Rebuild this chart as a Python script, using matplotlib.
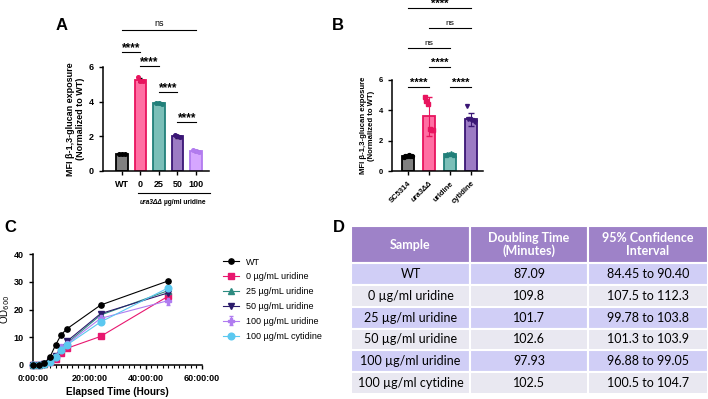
import matplotlib
matplotlib.use("Agg")
import matplotlib.pyplot as plt
from matplotlib.ticker import MultipleLocator

plt.rcParams['font.family'] = ['Liberation Sans', 'DejaVu Sans']
plt.rcParams['axes.linewidth'] = 1.1

# ---------------- Data ----------------
# Panel A
a_labels = ["WT", "0", "25", "50", "100"]
a_means = [1.0, 5.25, 3.9, 2.0, 1.15]
a_sd = [0.02, 0.1, 0.06, 0.07, 0.05]
a_points = [[1.0, 1.0, 1.0], [5.4, 5.2, 5.2], [3.95, 3.9, 3.85],
            [2.05, 2.0, 1.95], [1.2, 1.15, 1.12]]

# Panel B
b_labels = ["SC5314", "ura3ΔΔ", "uridine", "cytidine"]
b_means = [1.0, 3.6, 1.12, 3.42]
b_sd = [0.05, 1.28, 0.06, 0.42]
b_points = [[0.95, 1.0, 1.02, 1.05, 0.98, 1.0],
            [4.9, 4.6, 4.4, 2.75, 2.7, 2.72],
            [1.05, 1.1, 1.15, 1.2, 1.12, 1.08],
            [4.3, 3.45, 3.4, 3.35, 3.3, 3.25]]

# Panel C
hours = [0, 2, 4, 6, 8, 10, 12, 24, 48]
od_wt = [0, 0.1, 0.6, 2.8, 7.2, 10.9, 13.0, 21.6, 30.3]
od_u0 = [0, 0, 0.2, 1.0, 2.3, 4.3, 6.0, 10.3, 24.8]
od_u25 = [0, 0, 0.3, 1.5, 3.2, 5.8, 7.8, 18.0, 26.8]
od_u50 = [0, 0, 0.3, 1.6, 3.4, 6.2, 8.5, 18.5, 26.0]
od_u100 = [0, 0, 0.3, 1.4, 3.0, 6.5, 7.5, 16.8, 23.2]
od_u100_err = [0, 0, 0, 0, 0, 0.3, 0.3, 0.6, 1.5]
od_c100 = [0, 0, 0.3, 1.2, 2.8, 5.5, 7.2, 15.5, 27.8]
c_series_labels = ["WT", "0 µg/mL uridine", "25 µg/mL uridine",
                   "50 µg/mL uridine", "100 µg/mL uridine", "100 µg/mL cytidine"]

# Panel D
d_header = ["Sample", "Doubling Time\n(Minutes)", "95% Confidence\nInterval"]
d_samples = ["WT", "0 µg/ml uridine", "25 µg/ml uridine", "50 µg/ml uridine",
             "100 µg/ml uridine", "100 µg/ml cytidine"]
d_doubling = ["87.09", "109.8", "101.7", "102.6", "97.93", "102.5"]
d_ci = ["84.45 to 90.40", "107.5 to 112.3", "99.78 to 103.8", "101.3 to 103.9",
        "96.88 to 99.05", "100.5 to 104.7"]

# ---------------- Figure ----------------
W, H = 708, 399
fig = plt.figure(figsize=(W / 100, H / 100), dpi=100)


def ax_px(l, t, r, b):
    return fig.add_axes([l / W, 1 - b / H, (r - l) / W, (b - t) / H])


def style_prism(ax, size=6.5):
    for s in ["top", "right"]:
        ax.spines[s].set_visible(False)
    ax.tick_params(width=1.0, length=3, labelsize=size)
    for lab in ax.get_xticklabels() + ax.get_yticklabels():
        lab.set_fontweight('bold')


fills = ["#808080", "#FF6FA3", "#7BBFB8", "#9C7BC4", "#D6A6FF"]
edges = ["#000000", "#E8145E", "#22807A", "#3A1675", "#B27BEF"]

# ---------------- Panel A ----------------
axA = ax_px(103, 67, 209, 171)
xa = list(range(len(a_labels)))
axA.bar(xa, a_means, width=0.64, color=fills, edgecolor=edges, linewidth=1.3,
        yerr=a_sd, error_kw=dict(ecolor='k', lw=0.6, capsize=1.5), zorder=2)
for i, pts in enumerate(a_points):
    axA.plot([i - 0.15, i, i + 0.15], pts, 'o', ms=2.6, color=edges[i],
             zorder=3, clip_on=False)
axA.set_xlim(-1.02, 4.7)
axA.set_ylim(0, 6)
axA.set_yticks([0, 2, 4, 6])
axA.set_xticks(xa)
axA.set_xticklabels(a_labels)
style_prism(axA, 6.5)
axA.set_ylabel("MFI β-1,3-glucan exposure\n(Normalized to WT)", fontsize=6.5,
               fontweight='bold', labelpad=3, linespacing=1.1)

a_sig = [(0, 4, 8.14, "ns"), (0, 1, 6.87, "****"), (1, 2, 6.06, "****"),
         (2, 3, 4.56, "****"), (3, 4, 2.83, "****")]
for x0, x1, yv, txt in a_sig:
    axA.plot([x0, x1], [yv, yv], color='k', lw=0.8, clip_on=False)
    if txt == "ns":
        axA.text((x0 + x1) / 2, yv + 0.2, txt, ha='center', va='baseline',
                 fontsize=6.5, clip_on=False)
    else:
        axA.text((x0 + x1) / 2, yv + 0.05, txt, ha='center', va='baseline',
                 fontsize=8.5, fontweight='bold', clip_on=False)

# bracket under A
fig.add_artist(plt.Line2D([138 / W, 210 / W], [1 - 193 / H, 1 - 193 / H],
                          color='k', lw=0.8))
fig.text(163 / W, 1 - 203 / H, "ura3ΔΔ", ha='right', va='center', fontsize=4.8,
         fontweight='bold', style='italic')
fig.text(164 / W, 1 - 203 / H, "µg/ml uridine", ha='left', va='center',
         fontsize=4.8, fontweight='bold')

# ---------------- Panel B ----------------
axB = ax_px(392, 80, 483, 171)
xb = list(range(len(b_labels)))
b_fill = [fills[0], fills[1], fills[2], fills[3]]
b_edge = [edges[0], edges[1], edges[2], edges[3]]
b_mark = ['o', 's', '^', 'v']
axB.bar(xb, b_means, width=0.6, color=b_fill, edgecolor=b_edge, linewidth=1.3,
        zorder=2)
for i in xb:
    axB.errorbar(i, b_means[i], yerr=b_sd[i], color=b_edge[i], lw=0.8,
                 capsize=2, zorder=3)
for i, pts in enumerate(b_points):
    n = len(pts)
    xs = [i - 0.2 + 0.4 * k / (n - 1) for k in range(n)]
    axB.plot(xs, pts, b_mark[i], ms=2.8, color=b_edge[i], zorder=4,
             clip_on=False)
axB.set_xlim(-0.76, 3.57)
axB.set_ylim(0, 6)
axB.set_yticks([0, 2, 4, 6])
axB.set_xticks(xb)
axB.set_xticklabels(b_labels, rotation=45, ha='right', rotation_mode='anchor')
style_prism(axB, 5.5)
axB.get_xticklabels()[1].set_style('italic')
axB.set_ylabel("MFI β-1,3-glucan exposure\n(Normalized to WT)", fontsize=5.6,
               fontweight='bold', labelpad=3, linespacing=1.1)

b_sig = [(0, 3, 10.75, "****"), (1, 3, 9.43, "ns"), (0, 2, 8.11, "ns"),
         (1, 2, 6.86, "****"), (0, 1, 5.54, "****"), (2, 3, 5.54, "****")]
for x0, x1, yv, txt in b_sig:
    axB.plot([x0, x1], [yv, yv], color='k', lw=0.8, clip_on=False)
    if txt == "ns":
        axB.text((x0 + x1) / 2, yv + 0.2, txt, ha='center', va='baseline',
                 fontsize=6, clip_on=False)
    else:
        axB.text((x0 + x1) / 2, yv + 0.05, txt, ha='center', va='baseline',
                 fontsize=8, fontweight='bold', clip_on=False)

# ---------------- Panel C ----------------
axC = ax_px(33, 254, 202, 365)
c_data = [od_wt, od_u0, od_u25, od_u50, od_u100, od_c100]
c_colors = ["#000000", "#E8176F", "#2E8B80", "#2B1B6B", "#B07CF0", "#5BC8F0"]
c_markers = ['o', 's', '^', 'v', 'P', 'o']
c_ms = [3.8, 3.8, 3.8, 3.8, 3.8, 4.8]
for k, (ys, col, mk) in enumerate(zip(c_data, c_colors, c_markers)):
    yerr = od_u100_err if k == 4 else None
    axC.errorbar(hours, ys, yerr=yerr, color=col, marker=mk, ms=c_ms[k],
                 lw=0.8, capsize=1.5, label=c_series_labels[k], clip_on=False,
                 zorder=3 + (1 if k == 0 else 0))
axC.set_xlim(0, 60)
axC.set_ylim(0, 40)
axC.set_xticks([0, 20, 40, 60])
axC.set_xticklabels([f"{h}:00:00" for h in [0, 20, 40, 60]])
axC.xaxis.set_minor_locator(MultipleLocator(2))
axC.set_yticks([0, 10, 20, 30, 40])
style_prism(axC, 6.5)
axC.tick_params(which='minor', length=2, width=0.8)
axC.set_xlabel("Elapsed Time (Hours)", fontsize=7.2, fontweight='bold', labelpad=3)
axC.set_ylabel("OD$_{600}$", fontsize=7, labelpad=1)
axC.legend(loc='upper left', bbox_to_anchor=(218 / W, 1 - 253 / H),
           bbox_transform=fig.transFigure, frameon=False, fontsize=6.5,
           handlelength=1.8, labelspacing=0.65, borderpad=0, handletextpad=0.8)

# ---------------- Panel D ----------------
axD = ax_px(351, 226, 708, 394)
axD.axis('off')
cell_text = [[s, d, c] for s, d, c in zip(d_samples, d_doubling, d_ci)]
tbl = axD.table(cellText=cell_text, colLabels=d_header, cellLoc='center',
                colWidths=[119, 118, 120], bbox=[0, 0, 1, 1])
tbl.auto_set_font_size(False)
tbl.set_fontsize(9)
header_col = "#9E82C8"
row_cols = ["#D0CEF6", "#E9E8F1"]
for (r, c), cell in tbl.get_celld().items():
    cell.set_edgecolor('white')
    cell.set_linewidth(1.5)
    txt = cell.get_text()
    txt.set_fontfamily('Lato')
    if r == 0:
        cell.set_facecolor(header_col)
        cell.set_height(37)
        txt.set_color('white')
        txt.set_fontweight('bold')
        txt.set_linespacing(1.1)
    else:
        cell.set_facecolor(row_cols[(r - 1) % 2])
        cell.set_height(21.7)
        txt.set_color('black')

# ---------------- Panel letters ----------------
for letter, x, y in [("A", 62, 26), ("B", 338, 26), ("C", 10, 227), ("D", 339, 227)]:
    fig.text(x / W, 1 - y / H, letter, ha='center', va='center', fontsize=12,
             fontweight='bold')

fig.savefig("out.png", dpi=100)
